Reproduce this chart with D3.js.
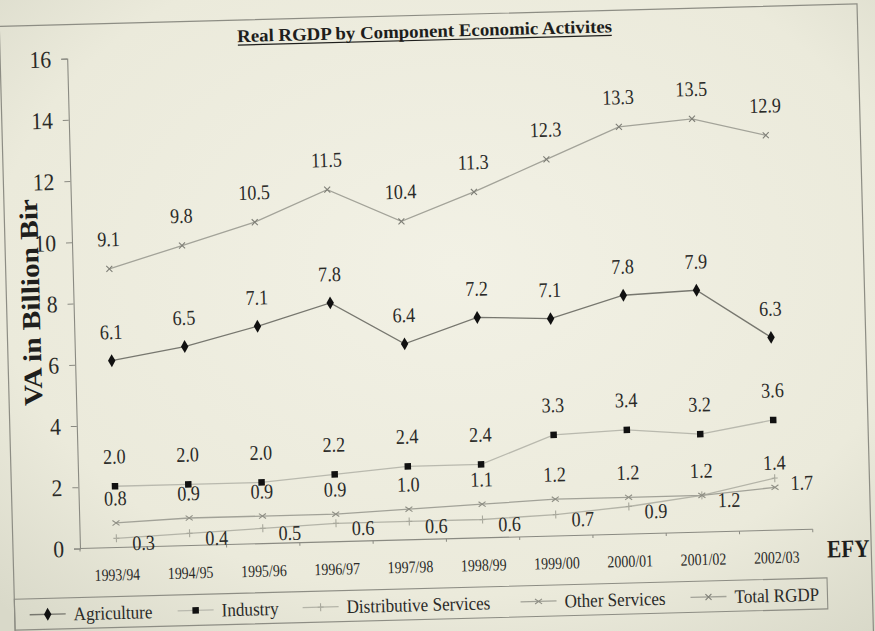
<!DOCTYPE html>
<html>
<head>
<meta charset="utf-8">
<script src="https://cdn.jsdelivr.net/npm/d3@7"></script>
<style>
  html, body { margin: 0; padding: 0; background: #ebeadb; }
  svg { display: block; }
  svg text { font-family: "Liberation Serif", "Times New Roman", Times, serif; }
</style>
</head>
<body>
<script>
// Fiscal years (Ethiopian fiscal year)
const years = ["1993/94", "1994/95", "1995/96", "1996/97", "1997/98",
               "1998/99", "1999/00", "2000/01", "2001/02", "2002/03"];

// Value added by component, billion Birr
const agriculture   = [6.1, 6.5, 7.1, 7.8, 6.4, 7.2, 7.1, 7.8, 7.9, 6.3];
const industry      = [2.0, 2.0, 2.0, 2.2, 2.4, 2.4, 3.3, 3.4, 3.2, 3.6];
const distributive  = [0.3, 0.4, 0.5, 0.6, 0.6, 0.6, 0.7, 0.9, 1.2, 1.7];
const otherServices = [0.8, 0.9, 0.9, 0.9, 1.0, 1.1, 1.2, 1.2, 1.2, 1.4];
const totalRGDP     = [9.1, 9.8, 10.5, 11.5, 10.4, 11.3, 12.3, 13.3, 13.5, 12.9];

const yTicks = [0, 2, 4, 6, 8, 10, 12, 14, 16];

const seriesNames = ["Agriculture", "Industry", "Distributive Services", "Other Services", "Total RGDP"];

const W = 875, H = 631;
const ink = "#2a2a28";

const svg = d3.select("body").append("svg")
  .attr("width", W).attr("height", H);

// paper background
const defs = svg.append("defs");
const rg = defs.append("radialGradient").attr("id", "paper")
  .attr("cx", "52%").attr("cy", "42%").attr("r", "75%");
rg.append("stop").attr("offset", "0%").attr("stop-color", "#f2f1e5");
rg.append("stop").attr("offset", "70%").attr("stop-color", "#ebeadb");
rg.append("stop").attr("offset", "100%").attr("stop-color", "#d9d9c9");
svg.append("rect").attr("width", W).attr("height", H).attr("fill", "url(#paper)");

// the whole printed chart sits slightly tilted on the page
const page = svg.append("g").attr("transform", "rotate(-1.5, 437, 315)");

// outer frame
page.append("rect")
  .attr("x", 7).attr("y", 15).attr("width", 858).attr("height", 640)
  .attr("fill", "none").attr("stroke", "#8d8d84").attr("stroke-width", 1.2);

const x = d3.scalePoint().domain(years).range([74, 807]).padding(0.5);
const y = d3.scaleLinear().domain([0, 16]).range([539, 49]);

// text helper: horizontally condensed serif text
function label(parent, px, py, str, o = {}) {
  const g = parent.append("g")
    .attr("transform", `translate(${px},${py}) scale(${o.sx ?? 0.86},1)`);
  return g.append("text")
    .attr("text-anchor", o.anchor ?? "middle")
    .attr("dy", o.dy ?? "0.35em")
    .style("font-size", (o.size ?? 21) + "px")
    .style("font-weight", o.weight ?? "normal")
    .attr("fill", o.fill ?? ink)
    .text(str);
}

// title
page.append("text")
  .attr("x", 432).attr("y", 37)
  .attr("text-anchor", "middle")
  .style("font-weight", "bold").style("font-size", "18px")
  .attr("fill", "#1e1e1c")
  .attr("textLength", 375).attr("lengthAdjust", "spacingAndGlyphs")
  .text("Real RGDP by Component Economic Activites");
page.append("line")
  .attr("x1", 432 - 187).attr("x2", 432 + 187)
  .attr("y1", 40).attr("y2", 40)
  .attr("stroke", "#1e1e1c").attr("stroke-width", 1.2);

// y axis
const yAxis = d3.axisLeft(y).tickValues(yTicks).tickSize(6).tickFormat(d3.format("d"));
const ya = page.append("g").attr("transform", "translate(74,0)").call(yAxis);
ya.select(".domain").attr("stroke", "#8a8a82").attr("stroke-width", 1.1);
ya.selectAll(".tick line").attr("stroke", "#8a8a82");
ya.selectAll(".tick text").remove();
yTicks.forEach(t => label(page, 58, y(t), d3.format("d")(t), { anchor: "end", size: 24, sx: 0.9 }));

// y axis title
page.append("text")
  .attr("transform", "translate(31,292) rotate(-90)")
  .attr("text-anchor", "middle").attr("dy", "0.35em")
  .style("font-weight", "bold").style("font-size", "26px")
  .attr("fill", "#1e1e1c")
  .attr("textLength", 207).attr("lengthAdjust", "spacingAndGlyphs")
  .text("VA in Billion Bir");

// x axis
const xa = page.append("g").attr("transform", `translate(0,${y(0)})`);
xa.append("line").attr("x1", 74).attr("x2", 807).attr("stroke", "#8a8a82").attr("stroke-width", 1.1);
const step = x.step();
d3.range(years.length + 1).forEach(i => {
  const bx = x(years[0]) - step / 2 + i * step;
  xa.append("line").attr("x1", bx).attr("x2", bx).attr("y1", 0).attr("y2", 3)
    .attr("stroke", "#8a8a82");
});
years.forEach(yr => label(page, x(yr), 566, yr, { size: 17, sx: 0.82 }));
label(page, 842, 559, "EFY", { size: 25, sx: 0.85, weight: "bold", fill: "#1e1e1c" });

// series definitions
const fmt = d3.format(".1f");
const series = [
  { name: seriesNames[0], values: agriculture,   stroke: "#77776f", marker: "diamond", lab: [0, -29] },
  { name: seriesNames[1], values: industry,      stroke: "#b9b9ae", marker: "square",  lab: [0, -30] },
  { name: seriesNames[2], values: distributive,  stroke: "#b4b4a8", marker: "plus",    lab: [27, 5] },
  { name: seriesNames[3], values: otherServices, stroke: "#a2a298", marker: "xmark",   lab: [0, -25] },
  { name: seriesNames[4], values: totalRGDP,     stroke: "#a3a399", marker: "cross",   lab: [0, -30] }
];

function drawMarker(g, type, cx, cy, scale = 1) {
  if (type === "diamond") {
    g.append("path").attr("d", d3.symbol(d3.symbolDiamond, 48 * scale)())
      .attr("transform", `translate(${cx},${cy})`).attr("fill", "#111");
  } else if (type === "square") {
    g.append("path").attr("d", d3.symbol(d3.symbolSquare, 42 * scale)())
      .attr("transform", `translate(${cx},${cy})`).attr("fill", "#111");
  } else if (type === "plus") {
    g.append("path").attr("d", "M0,-4L0,4M-3,0L3,0")
      .attr("transform", `translate(${cx},${cy})`)
      .attr("stroke", "#a8a89c").attr("stroke-width", 1.1).attr("fill", "none");
  } else if (type === "xmark") {
    g.append("path").attr("d", "M-3.5,-2.5L3.5,2.5M-3.5,2.5L3.5,-2.5")
      .attr("transform", `translate(${cx},${cy})`)
      .attr("stroke", "#8e8e84").attr("stroke-width", 1.1).attr("fill", "none");
  } else if (type === "cross") {
    g.append("path").attr("d", "M-3,-3L3,3M-3,3L3,-3")
      .attr("transform", `translate(${cx},${cy})`)
      .attr("stroke", "#7e7e76").attr("stroke-width", 1.1).attr("fill", "none");
  }
}

const line = d3.line().x((d, i) => x(years[i])).y(d => y(d));

const plot = page.append("g");
series.forEach(s => {
  plot.append("path").datum(s.values)
    .attr("d", line).attr("fill", "none")
    .attr("stroke", s.stroke).attr("stroke-width", 1.3);
});
series.forEach(s => {
  s.values.forEach((v, i) => drawMarker(plot, s.marker, x(years[i]), y(v)));
});
series.forEach(s => {
  s.values.forEach((v, i) =>
    label(plot, x(years[i]) + s.lab[0], y(v) + s.lab[1], fmt(v), { size: 21, sx: 0.86 }));
});

// legend
const lg = page.append("g");
lg.append("rect").attr("x", 7).attr("y", 588).attr("width", 813).attr("height", 31)
  .attr("fill", "none").attr("stroke", "#8d8d84").attr("stroke-width", 1.1);
const legendX = [22, 170, 295, 513, 683];
series.forEach((s, i) => {
  const lx = legendX[i], ly = 604;
  lg.append("line").attr("x1", lx).attr("x2", lx + 36).attr("y1", ly).attr("y2", ly)
    .attr("stroke", s.stroke).attr("stroke-width", 1.3);
  drawMarker(lg, s.marker, lx + 18, ly);
  label(lg, lx + 44, ly, s.name, { anchor: "start", size: 19, sx: 0.9 });
});
</script>
</body>
</html>
